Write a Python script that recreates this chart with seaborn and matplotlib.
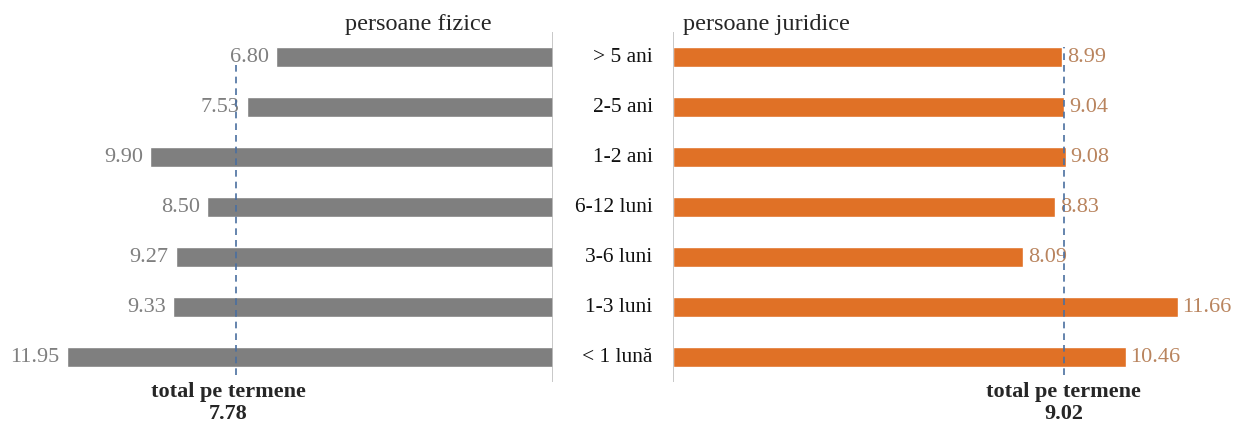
import numpy as np
import pandas as pd
import matplotlib
matplotlib.use("Agg")
import matplotlib.pyplot as plt
import seaborn as sns

termene = ['> 5 ani', '2-5 ani', '1-2 ani', '6-12 luni', '3-6 luni', '1-3 luni', '< 1 lună']
fizice = [6.80, 7.53, 9.90, 8.50, 9.27, 9.33, 11.95]
juridice = [8.99, 9.04, 9.08, 8.83, 8.09, 11.66, 10.46]
total_fizice = 7.78
total_juridice = 9.02

df = pd.DataFrame({'termen': termene, 'fizice': fizice, 'juridice': juridice})

sns.set_theme(style="white")
plt.rcParams['font.family'] = ['Liberation Serif', 'DejaVu Serif']

W, H = 1233, 426
fig = plt.figure(figsize=(W / 100, H / 100), dpi=100)

# pozitii in pixeli
bot, top = 44, 394
axL = fig.add_axes([40 / W, bot / H, (553 - 40) / W, (top - bot) / H])
axR = fig.add_axes([673 / W, bot / H, (1200 - 673) / W, (top - bot) / H])

gri = '#7f7f7f'
portocaliu = '#e07126'
linie = '#4a6fa0'

sns.barplot(data=df, y='termen', x='fizice', order=termene, color=gri,
            width=0.4, saturation=1, ax=axL)
sns.barplot(data=df, y='termen', x='juridice', order=termene, color=portocaliu,
            width=0.4, saturation=1, ax=axR)

axL.set_xlim(12.61, 0)
axR.set_xlim(0, 12.17)

for ax in (axL, axR):
    ax.set_ylim(6.5, -0.5)
    ax.set_xlabel('')
    ax.set_ylabel('')
    ax.set_xticks([])
    ax.set_yticks([])
    for s in ax.spines.values():
        s.set_visible(False)

axL.axvline(0, color='#bfbfbf', lw=1.2)
axR.axvline(0, color='#bfbfbf', lw=1.2)

# etichete valori
for i, v in enumerate(fizice):
    axL.text(v + 0.18, i, f'{v:.2f}', ha='right', va='center', color='#7f7f7f', fontsize=16)
for i, v in enumerate(juridice):
    axR.text(v + 0.1, i, f'{v:.2f}', ha='left', va='center', color='#b9845e', fontsize=16)

# linii totale
axL.axvline(total_fizice, ymin=0.02, ymax=0.905, color=linie, lw=1.2, ls=(0, (4, 3)), zorder=5)
axR.axvline(total_juridice, ymin=0.02, ymax=0.957, color=linie, lw=1.2, ls=(0, (4, 3)), zorder=5)

axL.text(total_fizice + 0.2, 6.49, 'total pe termene\n7.78', ha='center', va='top',
         fontsize=16, fontweight='bold', linespacing=1.15, clip_on=False)
axR.text(total_juridice, 6.49, 'total pe termene\n9.02', ha='center', va='top',
         fontsize=16, fontweight='bold', linespacing=1.15, clip_on=False)

# categorii intre panouri
for i, t in enumerate(termene):
    axR.text(-0.47, i, t, ha='right', va='center', fontsize=15.5, color='#111111', clip_on=False)

fig.text(418 / W, 1 - 30 / H, 'persoane fizice', ha='center', va='baseline', fontsize=17.5)
fig.text(683 / W, 1 - 30 / H, 'persoane juridice', ha='left', va='baseline', fontsize=17.5)

fig.savefig('out.png', dpi=100)
